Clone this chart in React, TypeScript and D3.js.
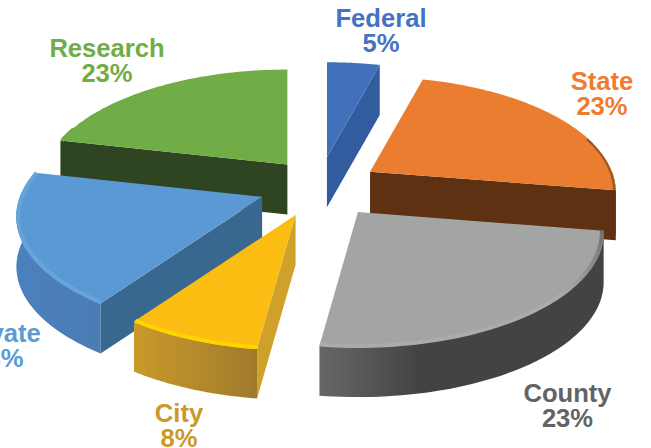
import React from "react";
import * as d3 from "d3";

const categories = ["Federal", "State", "County", "City", "Private", "Research"];
const percentLabels = ["5%", "23%", "23%", "8%", "18%", "23%"];
const visibleShares = [4.1, 23.5, 24.5, 7.6, 18.9, 21.4];

const topColors = ["#4270BB", "#EB7D30", "#A3A5A4", "#FCBD13", "#5A99D3", "#70AD47"];
const edgeColors = ["#325C9E", "#5E3113", "#5A5A5A", "#CFA02A", "#38688F", "#2F4420"];
const wallFrom = ["#325C9E", "#6B3A18", "#666867", "#C99A2A", "#4C80BD", "#2F4420"];
const wallTo = ["#325C9E", "#5E3113", "#434343", "#A07A2C", "#4A7DB5", "#2F4420"];
const rimFrom = ["#4270BB", "#B8692B", "#ABABA8", "#FFD500", "#66A5DC", "#70AD47"];
const rimTo = ["#4270BB", "#6B4022", "#707070", "#FFD500", "#66A5DC", "#70AD47"];
const labelColors = ["#4472C4", "#ED7D31", "#636363", "#C99A2A", "#5B9BD5", "#70AD47"];
const labelX = [381, 602, 567.5, 179, -2, 107];
const labelY = [27, 90, 402, 422, 342, 57];
const nudgeX = [0, -1, 2, -1, 1, 7];
const nudgeY = [0, 1, 1, 0, -1, 1];
const drawOrder = [5, 0, 1, 4, 2, 3];

const cx = 319, cy = 187;
const explodeX = 62, explodeY = 30;
const radiusX = 242, radiusY = 111.5, perspective = 0.174;
const depth = 50;

const rad = (deg: number) => (deg * Math.PI) / 180;
const pie = d3.pie<number>().sort(null).value((d) => d);
const arcs = pie(visibleShares);
const line = d3.line<[number, number]>().x((d) => d[0]).y((d) => d[1]);

function apexOf(a: any): [number, number] {
  const mid = (a.startAngle + a.endAngle) / 2;
  return [cx + explodeX * Math.sin(mid) + nudgeX[a.index], cy - explodeY * Math.cos(mid) + nudgeY[a.index]];
}
function rimPoint(a: any, t: number, r = 1, z = 0): [number, number] {
  const [ax, ay] = apexOf(a);
  const X = r * Math.sin(t), Y = r * Math.cos(t);
  const w = 1 + perspective * Y;
  return [ax + (radiusX * X) / w, ay - (radiusY * Y) / w + z];
}
function arcPoints(a: any, t0: number, t1: number, r = 1, z = 0) {
  return d3.range(0, 61).map((i) => rimPoint(a, t0 + ((t1 - t0) * i) / 60, r, z));
}

function slicePaths(a: any) {
  const apex = apexOf(a);
  const top = [apex, ...arcPoints(a, a.startAngle, a.endAngle)];
  const walls: { d: string; kind: string }[] = [];
  const mid = rimPoint(a, (a.startAngle + a.endAngle) / 2);
  for (const t of [a.startAngle, a.endAngle]) {
    const p = rimPoint(a, t);
    const dx = p[0] - apex[0], dy = p[1] - apex[1];
    if (Math.abs(dx) < 6) continue;
    const yOnLine = apex[1] + ((mid[0] - apex[0]) * dy) / dx;
    if (mid[1] < yOnLine) {
      const q: [number, number][] = [apex, p, [p[0], p[1] + depth], [apex[0], apex[1] + depth]];
      walls.push({ d: line(q) + "Z", kind: "edge" });
    }
  }
  const w0 = Math.max(a.startAngle, rad(90)), w1 = Math.min(a.endAngle, rad(272));
  let outer: string | null = null;
  if (w1 > w0) {
    outer = line([...arcPoints(a, w0, w1), ...arcPoints(a, w1, w0, 1, depth)]) + "Z";
  }
  const r0 = Math.max(a.startAngle, rad(72)), r1 = a.endAngle;
  const rim = r1 > r0 && r0 < rad(290) ? line(arcPoints(a, r0, Math.min(r1, rad(290)), 0.993)) : null;
  return { top: line(top) + "Z", walls, outer, rim };
}

export default function App() {
  return (
    <svg
      width={651}
      height={448}
      viewBox="0 0 651 448"
      style={{ position: "absolute", left: 0, top: 0, background: "#fff" }}
    >
      <defs>
        {categories.map((c, i) => (
          <React.Fragment key={c}>
            <linearGradient id={`wall${i}`} x1="0" x2="1" y1="0" y2="0">
              <stop offset="0" stopColor={wallFrom[i]} />
              <stop offset={i === 2 ? "0.35" : "1"} stopColor={wallTo[i]} />
            </linearGradient>
            <linearGradient id={`rim${i}`} gradientUnits="objectBoundingBox" x1="1" x2="0" y1="0" y2="1">
              <stop offset="0" stopColor={i === 2 ? rimTo[i] : rimFrom[i]} />
              <stop offset={i === 2 ? "0.35" : "1"} stopColor={i === 2 ? rimFrom[i] : rimTo[i]} />
            </linearGradient>
          </React.Fragment>
        ))}
        <filter id="soft" x="-5%" y="-5%" width="110%" height="110%">
          <feGaussianBlur stdDeviation="0.6" />
        </filter>
      </defs>
      {drawOrder.map((i) => {
        const p = slicePaths(arcs[i]);
        return (
          <g key={categories[i]}>
            {p.outer && <path d={p.outer} fill={`url(#wall${i})`} />}
            {p.walls.map((w, j) => (
              <path key={j} d={w.d} fill={edgeColors[i]} />
            ))}
            <path d={p.top} fill={topColors[i]} />
            {p.rim && (
              <path
                d={p.rim}
                fill="none"
                stroke={`url(#rim${i})`}
                strokeWidth={i === 1 ? 2 : 4}
                filter="url(#soft)"
              />
            )}
          </g>
        );
      })}
      {categories.map((c, i) => (
        <text
          key={c}
          textAnchor="middle"
          fontFamily="'Liberation Sans', Arial, sans-serif"
          fontWeight="bold"
          fontSize={25.6}
          fill={labelColors[i]}
        >
          <tspan x={labelX[i]} y={labelY[i]}>{c}</tspan>
          <tspan x={labelX[i]} y={labelY[i] + 24.5}>{percentLabels[i]}</tspan>
        </text>
      ))}
    </svg>
  );
}
